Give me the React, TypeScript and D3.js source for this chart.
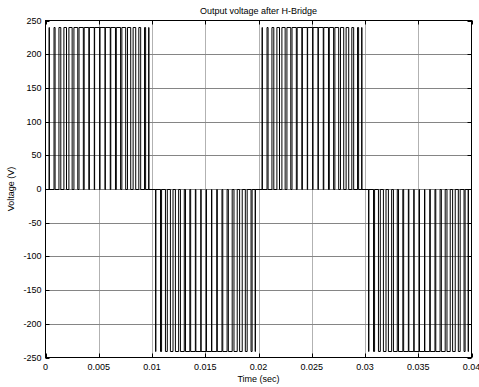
import React, { useRef, useEffect } from 'react'
import * as d3 from 'd3'

// start time (s) and polarity of each half cycle of the 50 Hz output
const halfCycleStarts = [0.0001, 0.0101, 0.0201, 0.0301]
const halfCycleSigns = [1, -1, 1, -1]

// carrier slot centres inside one half cycle (ms) and the pulse width in each (ms)
const slotCentres = [
  0.25, 0.75, 1.25, 1.75, 2.25, 2.75, 3.25, 3.75, 4.25, 4.75,
  5.25, 5.75, 6.25, 6.75, 7.25, 7.75, 8.25, 8.75, 9.25, 9.6,
]
const pulseWidths = [
  0.02, 0.1, 0.175, 0.245, 0.305, 0.36, 0.405, 0.44, 0.462, 0.475,
  0.475, 0.462, 0.44, 0.405, 0.36, 0.305, 0.245, 0.175, 0.1, 0.02,
]
const dcLink = 240

const xTicks = [0, 0.005, 0.01, 0.015, 0.02, 0.025, 0.03, 0.035, 0.04]
const yTicks = [-250, -200, -150, -100, -50, 0, 50, 100, 150, 200, 250]

const width = 479
const height = 387
const left = 45.5
const right = 471.5
const top = 20.5
const bottom = 357.5
const font = 'Liberation Sans, Arial, Helvetica, sans-serif'

const App = () => {
  const elRef = useRef<SVGSVGElement>(null)

  useEffect(() => {
    const svg = d3.select(elRef.current as SVGSVGElement)
    svg.selectAll('*').remove()

    const x = d3.scaleLinear().domain([0, 0.04]).range([left, right])
    const y = d3.scaleLinear().domain([-250, 250]).range([bottom, top])

    svg.append('rect').attr('width', width).attr('height', height).attr('fill', '#fff')

    // grid
    const grid = svg.append('g').attr('stroke-width', 1)
    grid.selectAll('line.gx')
      .data(xTicks.slice(1, -1))
      .enter()
      .append('line')
      .attr('stroke', '#b2b2b2')
      .attr('x1', (d) => Math.round(x(d)) + 0.5)
      .attr('x2', (d) => Math.round(x(d)) + 0.5)
      .attr('y1', top)
      .attr('y2', bottom)
    grid.selectAll('line.gy')
      .data(yTicks.slice(1, -1))
      .enter()
      .append('line')
      .attr('stroke', '#858585')
      .attr('y1', (d) => Math.round(y(d)) + 0.5)
      .attr('y2', (d) => Math.round(y(d)) + 0.5)
      .attr('x1', left)
      .attr('x2', right)

    // waveform
    const pts: [number, number][] = [[0, 0]]
    halfCycleStarts.forEach((t0, h) => {
      const v = dcLink * halfCycleSigns[h]
      slotCentres.forEach((c, i) => {
        const a = t0 + (c - pulseWidths[i] / 2) / 1000
        const b = t0 + (c + pulseWidths[i] / 2) / 1000
        pts.push([a, 0], [a, v], [b, v], [b, 0])
      })
    })
    pts.push([0.04, 0])

    const line = d3.line<[number, number]>()
      .x((d) => x(d[0]))
      .y((d) => Math.round(y(d[1])) + 0.5)

    svg.append('path')
      .attr('d', line(pts))
      .attr('fill', 'none')
      .attr('stroke', '#000')
      .attr('stroke-width', 1)

    // box and inward ticks
    svg.append('rect')
      .attr('x', left)
      .attr('y', top)
      .attr('width', right - left)
      .attr('height', bottom - top)
      .attr('fill', 'none')
      .attr('stroke', '#000')
      .attr('stroke-width', 1)

    const ticks = svg.append('g').attr('stroke', '#000').attr('stroke-width', 1)
    xTicks.forEach((t) => {
      const px = Math.round(x(t)) + 0.5
      ticks.append('line').attr('x1', px).attr('x2', px).attr('y1', bottom).attr('y2', bottom - 4)
      ticks.append('line').attr('x1', px).attr('x2', px).attr('y1', top).attr('y2', top + 4)
    })
    yTicks.forEach((t) => {
      const py = Math.round(y(t)) + 0.5
      ticks.append('line').attr('y1', py).attr('y2', py).attr('x1', left).attr('x2', left + 4)
      ticks.append('line').attr('y1', py).attr('y2', py).attr('x1', right).attr('x2', right - 4)
    })

    // tick labels
    const labels = svg.append('g').attr('font-family', font).attr('font-size', 9).attr('fill', '#000')
    labels.selectAll('text.xl')
      .data(xTicks)
      .enter()
      .append('text')
      .attr('x', (d) => x(d))
      .attr('y', bottom + 12)
      .attr('text-anchor', 'middle')
      .text((d) => String(d))
    labels.selectAll('text.yl')
      .data(yTicks)
      .enter()
      .append('text')
      .attr('x', left - 4)
      .attr('y', (d) => y(d) + 3)
      .attr('text-anchor', 'end')
      .text((d) => String(d))

    // titles
    svg.append('text')
      .attr('x', (left + right) / 2)
      .attr('y', 14)
      .attr('text-anchor', 'middle')
      .attr('font-family', font)
      .attr('font-size', 9)
      .text('Output voltage after H-Bridge')
    svg.append('text')
      .attr('x', (left + right) / 2)
      .attr('y', 382)
      .attr('text-anchor', 'middle')
      .attr('font-family', font)
      .attr('font-size', 9)
      .text('Time (sec)')
    svg.append('text')
      .attr('transform', `translate(14, ${(top + bottom) / 2}) rotate(-90)`)
      .attr('text-anchor', 'middle')
      .attr('font-family', font)
      .attr('font-size', 9)
      .text('Voltage (V)')
  }, [])

  return (
    <svg
      ref={elRef}
      width={width}
      height={height}
      style={{ position: 'absolute', left: 0, top: 0, display: 'block' }}
    />
  )
}

export default App
